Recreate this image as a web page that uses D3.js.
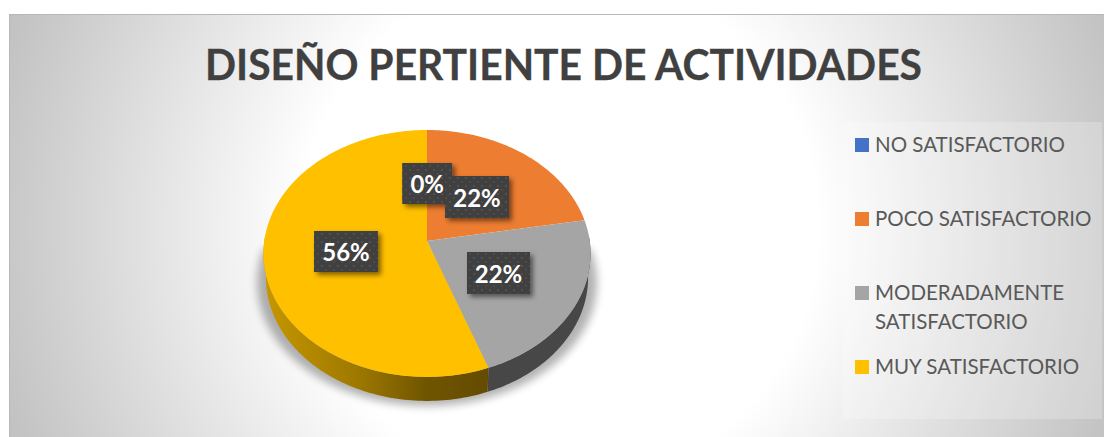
<!DOCTYPE html>
<html><head><meta charset="utf-8">
<style>html,body{margin:0;padding:0;background:#fff}svg{display:block}</style>
<script src="https://cdnjs.cloudflare.com/ajax/libs/d3/7.8.5/d3.min.js"></script>
</head><body><svg id="c" width="1104" height="437"></svg>
<script>
const titleText = "DISEÑO PERTIENTE DE ACTIVIDADES";
const categories = ["NO SATISFACTORIO","POCO SATISFACTORIO","MODERADAMENTE SATISFACTORIO","MUY SATISFACTORIO"];
const counts = [0,2,2,5];
const colors = ["#4472C4","#ED7D31","#A5A5A5","#FFC000"];
const FONT = "Lato, 'Open Sans', sans-serif";

const svg = d3.select("#c");
const defs = svg.append("defs");

const bg = defs.append("radialGradient").attr("id","bg").attr("gradientUnits","userSpaceOnUse")
  .attr("cx",560).attr("cy",228).attr("r",600);
[[0.43,"#ffffff"],[1,"#bfbfbf"]].forEach(([o,c])=>bg.append("stop").attr("offset",o).attr("stop-color",c));

const wall = defs.append("linearGradient").attr("id","wallY").attr("gradientUnits","userSpaceOnUse")
  .attr("x1",263).attr("x2",490).attr("y1",0).attr("y2",0);
[[0,"#c79700"],[0.4,"#a07a00"],[0.72,"#705500"],[1,"#634b00"]].forEach(([o,c])=>wall.append("stop").attr("offset",o).attr("stop-color",c));

const blur = defs.append("filter").attr("id","blur").attr("x","-20%").attr("y","-20%").attr("width","140%").attr("height","140%");
blur.append("feGaussianBlur").attr("stdDeviation",4);
const ds = defs.append("filter").attr("id","ds").attr("x","-30%").attr("y","-30%").attr("width","170%").attr("height","170%");
ds.append("feDropShadow").attr("dx",3).attr("dy",3).attr("stdDeviation",2.5).attr("flood-color","#000").attr("flood-opacity",0.5);

const pat = defs.append("pattern").attr("id","dots").attr("patternUnits","userSpaceOnUse").attr("width",8).attr("height",8);
pat.append("rect").attr("width",8).attr("height",8).attr("fill","#404040");
pat.append("circle").attr("cx",2).attr("cy",2).attr("r",1.1).attr("fill","#555");
pat.append("circle").attr("cx",6).attr("cy",6).attr("r",1.1).attr("fill","#4d4d4d");

svg.append("rect").attr("x",9).attr("y",14).attr("width",1095).attr("height",423).attr("fill","url(#bg)");
svg.append("path").attr("d","M9.5 437V14.5H1104").attr("fill","none").attr("stroke","#b8b8b8").attr("stroke-width",1);
svg.append("rect").attr("x",843).attr("y",122).attr("width",259).attr("height",297).attr("fill","#fff").attr("opacity",0.22);

svg.append("text").attr("x",563.5).attr("y",80).attr("text-anchor","middle")
  .attr("font-family",FONT).attr("font-weight",700).attr("font-size",42).attr("fill","#404040")
  .attr("stroke","#404040").attr("stroke-width",0.3)
  .attr("textLength",717).attr("lengthAdjust","spacingAndGlyphs").text(titleText);

// Pie in perspective
const cx=427, cy=241, A=162.7, B=122.2, P=0.101, depth=24, shrink=0.985;
const proj=(a,r=1)=>{const u=r*Math.sin(a), v=-r*Math.cos(a), s=1/(1-P*v);return [cx+A*u*s, cy+B*v*s];};
const low=(a)=>{const [x,y]=proj(a);return [cx+(x-cx)*shrink, y+depth];};
const arcs=d3.pie().sort(null)(counts);
const line=d3.line();
const samples=(a0,a1)=>{const n=Math.max(2,Math.ceil((a1-a0)/0.02));return d3.range(n+1).map(i=>a0+(a1-a0)*i/n);};

// soft shadow: wedge rising from the base to the widest points of the top face
const front=samples(Math.PI/2-0.2,3*Math.PI/2+0.2).map(a=>{const [x,y]=low(a);return [cx+(x-cx)*1.055,y+5];});
svg.append("path").attr("filter","url(#blur)").attr("fill","#000").attr("opacity",0.3)
  .attr("d",line([[cx+162,250]].concat(front,[[cx-162,250]]))+"Z");

// walls: visible front half only
arcs.forEach((d,i)=>{
  if(d.value===0) return;
  const a0=Math.max(d.startAngle,Math.PI/2-0.05), a1=Math.min(d.endAngle,3*Math.PI/2+0.05);
  if(a1<=a0) return;
  const ss=samples(a0,a1);
  svg.append("path").attr("fill",i===3?"url(#wallY)":"#474747")
    .attr("d",line(ss.map(a=>proj(a)).concat(ss.slice().reverse().map(low)))+"Z");
});
// top faces
arcs.forEach((d,i)=>{
  if(d.value===0) return;
  svg.append("path").attr("fill",colors[i])
    .attr("d",line([[cx,cy]].concat(samples(d.startAngle,d.endAngle).map(a=>proj(a))))+"Z");
});

// data labels
const fmt=d3.format(".0%"), total=d3.sum(counts);
const labelAt=[[427.2,183.5,50,41],[477,197,64,42],[498.5,273,63,42],[346,251.5,64,41]];
arcs.forEach((d,i)=>{
  const [lx,ly,w,h]=labelAt[i];
  const g=svg.append("g");
  g.append("rect").attr("x",lx-w/2).attr("y",ly-h/2).attr("width",w).attr("height",h)
    .attr("fill","url(#dots)").attr("filter","url(#ds)");
  g.append("text").attr("x",lx).attr("y",ly+9.5).attr("text-anchor","middle")
    .attr("font-family",FONT).attr("font-weight",700).attr("font-size",24).attr("fill","#fff")
    .text(fmt(d.value/total));
});

// legend
const ly=d3.scalePoint().domain(categories).range([145,367]);
categories.forEach((c,i)=>{
  const y=ly(c);
  svg.append("rect").attr("x",855).attr("y",y-7).attr("width",14).attr("height",14).attr("fill",colors[i]);
  const t=svg.append("text").attr("x",875).attr("y",y+7).attr("font-family",FONT).attr("font-size",20.5).attr("fill","#595959");
  const words=c==="MODERADAMENTE SATISFACTORIO"?c.split(" "):[c];
  words.forEach((w,j)=>t.append("tspan").attr("x",875).attr("dy",j?29:0).text(w));
});
</script></body></html>
